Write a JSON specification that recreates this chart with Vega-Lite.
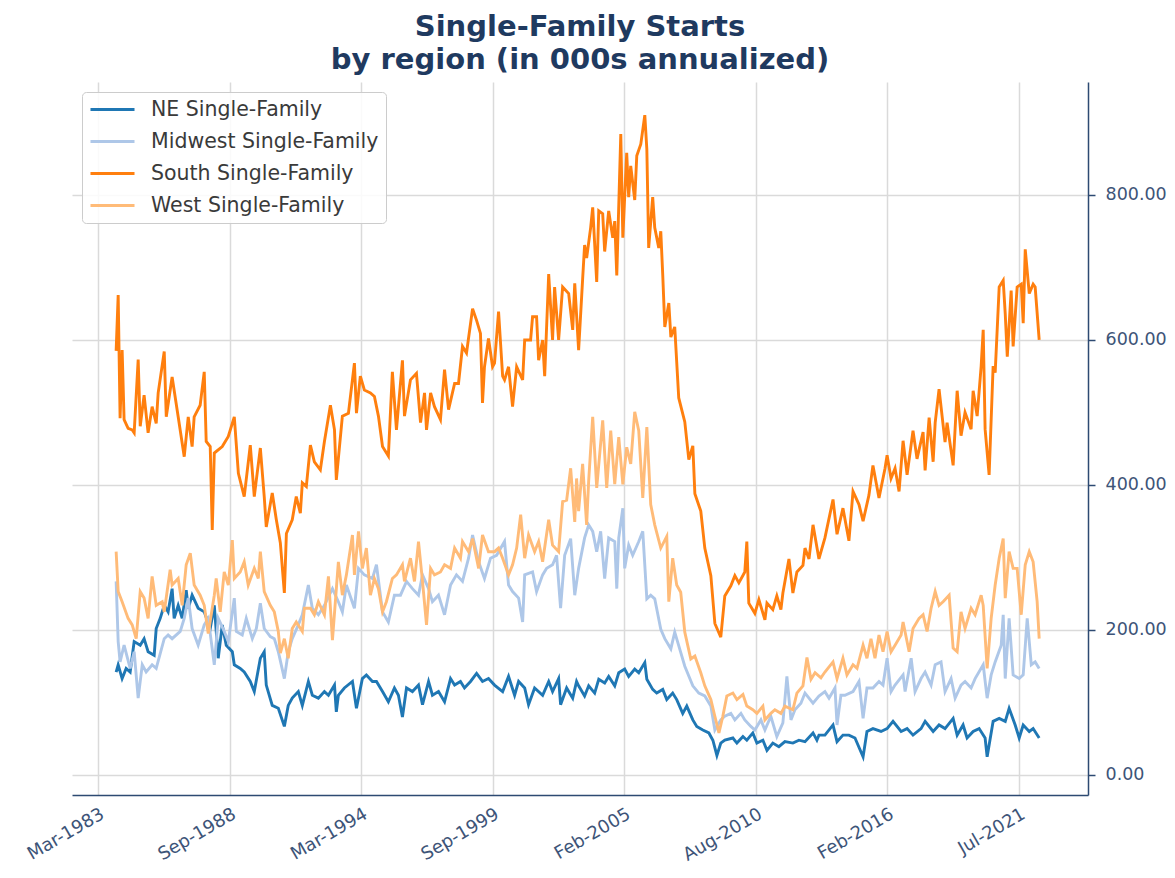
{
"$schema": "https://vega.github.io/schema/vega-lite/v6.json",
"width": 1016, "height": 713,
"autosize": {"type": "none"},
"padding": {"left": 72, "top": 82, "right": 87, "bottom": 83},
"background": "white",
"config": {"font": "DejaVu Sans", "view": {"stroke": null},
  "legend": {"orient": "top-left", "offset": 10, "symbolType": "M-2.5,0H2.5", "symbolSize": 310, "symbolStrokeWidth": 3, "symbolOffset": 13, "labelFontSize": 20.5, "labelLimit": 500, "labelColor": "#3a3a3a", "labelFont": "DejaVu Sans", "fillColor": "rgba(255,255,255,0.85)", "strokeColor": "#cccccc", "cornerRadius": 4, "padding": 7, "rowPadding": 11, "labelOffset": 28}},
"title": {"text": ["Single-Family Starts", "by region (in 000s annualized)"], "fontSize": 29, "fontWeight": "bold", "color": "#1f3a60", "anchor": "middle", "lineHeight": 33, "offset": 7, "font": "DejaVu Sans"},
"datasets": {
"ne": [{"d":"1984-01","v":142},{"d":"1984-02","v":152},{"d":"1984-04","v":133},{"d":"1984-06","v":147},{"d":"1984-08","v":142},{"d":"1984-10","v":184},{"d":"1985-01","v":179},{"d":"1985-03","v":188},{"d":"1985-05","v":170},{"d":"1985-08","v":165},{"d":"1985-09","v":202},{"d":"1985-11","v":216},{"d":"1986-01","v":234},{"d":"1986-03","v":225},{"d":"1986-05","v":257},{"d":"1986-06","v":216},{"d":"1986-08","v":234},{"d":"1986-10","v":216},{"d":"1986-12","v":255},{"d":"1987-01","v":230},{"d":"1987-03","v":248},{"d":"1987-06","v":230},{"d":"1987-09","v":225},{"d":"1987-12","v":202},{"d":"1988-02","v":234},{"d":"1988-04","v":161},{"d":"1988-06","v":207},{"d":"1988-08","v":179},{"d":"1988-11","v":170},{"d":"1988-12","v":152},{"d":"1989-03","v":147},{"d":"1989-05","v":142},{"d":"1989-08","v":129},{"d":"1989-10","v":115},{"d":"1990-01","v":161},{"d":"1990-03","v":170},{"d":"1990-04","v":124},{"d":"1990-07","v":96},{"d":"1990-10","v":92},{"d":"1991-01","v":67},{"d":"1991-03","v":96},{"d":"1991-05","v":106},{"d":"1991-08","v":115},{"d":"1991-10","v":96},{"d":"1992-01","v":129},{"d":"1992-03","v":110},{"d":"1992-06","v":106},{"d":"1992-09","v":115},{"d":"1992-11","v":110},{"d":"1993-02","v":124},{"d":"1993-03","v":87},{"d":"1993-04","v":110},{"d":"1993-07","v":120},{"d":"1993-11","v":129},{"d":"1994-01","v":92},{"d":"1994-04","v":133},{"d":"1994-06","v":138},{"d":"1994-09","v":129},{"d":"1994-11","v":129},{"d":"1995-02","v":115},{"d":"1995-05","v":101},{"d":"1995-08","v":120},{"d":"1995-10","v":110},{"d":"1995-12","v":80},{"d":"1996-02","v":120},{"d":"1996-05","v":115},{"d":"1996-08","v":124},{"d":"1996-10","v":97},{"d":"1997-01","v":129},{"d":"1997-03","v":110},{"d":"1997-06","v":115},{"d":"1997-09","v":101},{"d":"1997-12","v":133},{"d":"1998-02","v":124},{"d":"1998-05","v":129},{"d":"1998-07","v":120},{"d":"1998-10","v":129},{"d":"1999-01","v":140},{"d":"1999-04","v":129},{"d":"1999-07","v":133},{"d":"1999-10","v":124},{"d":"2000-02","v":115},{"d":"2000-05","v":136},{"d":"2000-08","v":110},{"d":"2000-10","v":129},{"d":"2001-01","v":120},{"d":"2001-03","v":97},{"d":"2001-06","v":120},{"d":"2001-10","v":110},{"d":"2002-01","v":129},{"d":"2002-03","v":115},{"d":"2002-06","v":133},{"d":"2002-07","v":97},{"d":"2002-10","v":120},{"d":"2003-01","v":106},{"d":"2003-03","v":129},{"d":"2003-04","v":123},{"d":"2003-07","v":109},{"d":"2003-09","v":123},{"d":"2003-12","v":113},{"d":"2004-02","v":132},{"d":"2004-05","v":127},{"d":"2004-07","v":136},{"d":"2004-10","v":123},{"d":"2004-12","v":141},{"d":"2005-03","v":146},{"d":"2005-05","v":136},{"d":"2005-08","v":146},{"d":"2005-10","v":141},{"d":"2006-01","v":155},{"d":"2006-02","v":132},{"d":"2006-05","v":118},{"d":"2006-07","v":113},{"d":"2006-10","v":118},{"d":"2006-12","v":104},{"d":"2007-03","v":113},{"d":"2007-05","v":104},{"d":"2007-08","v":85},{"d":"2007-10","v":95},{"d":"2008-01","v":76},{"d":"2008-03","v":67},{"d":"2008-06","v":62},{"d":"2008-09","v":58},{"d":"2008-11","v":48},{"d":"2009-01","v":27},{"d":"2009-03","v":44},{"d":"2009-05","v":48},{"d":"2009-09","v":51},{"d":"2009-11","v":44},{"d":"2010-02","v":53},{"d":"2010-04","v":48},{"d":"2010-07","v":58},{"d":"2010-09","v":44},{"d":"2010-12","v":48},{"d":"2011-02","v":34},{"d":"2011-05","v":44},{"d":"2011-08","v":39},{"d":"2011-11","v":46},{"d":"2012-03","v":44},{"d":"2012-06","v":48},{"d":"2012-09","v":46},{"d":"2013-01","v":58},{"d":"2013-03","v":48},{"d":"2013-04","v":55},{"d":"2013-07","v":55},{"d":"2013-11","v":69},{"d":"2014-01","v":46},{"d":"2014-04","v":55},{"d":"2014-07","v":55},{"d":"2014-10","v":51},{"d":"2015-02","v":25},{"d":"2015-04","v":60},{"d":"2015-07","v":64},{"d":"2015-11","v":60},{"d":"2016-02","v":64},{"d":"2016-05","v":74},{"d":"2016-09","v":60},{"d":"2016-12","v":64},{"d":"2017-03","v":55},{"d":"2017-07","v":64},{"d":"2017-09","v":74},{"d":"2018-01","v":60},{"d":"2018-04","v":69},{"d":"2018-07","v":64},{"d":"2018-11","v":78},{"d":"2019-01","v":55},{"d":"2019-04","v":69},{"d":"2019-06","v":51},{"d":"2019-09","v":60},{"d":"2019-12","v":64},{"d":"2020-03","v":51},{"d":"2020-04","v":25},{"d":"2020-07","v":74},{"d":"2020-10","v":78},{"d":"2021-01","v":74},{"d":"2021-03","v":92},{"d":"2021-06","v":69},{"d":"2021-08","v":51},{"d":"2021-10","v":69},{"d":"2022-01","v":60},{"d":"2022-03","v":64},{"d":"2022-06","v":51}],
"mw": [{"d":"1984-01","v":267},{"d":"1984-02","v":184},{"d":"1984-03","v":156},{"d":"1984-05","v":179},{"d":"1984-08","v":147},{"d":"1984-10","v":170},{"d":"1984-12","v":106},{"d":"1985-02","v":152},{"d":"1985-04","v":142},{"d":"1985-07","v":152},{"d":"1985-09","v":147},{"d":"1986-01","v":188},{"d":"1986-03","v":193},{"d":"1986-05","v":188},{"d":"1986-09","v":198},{"d":"1986-11","v":216},{"d":"1987-01","v":244},{"d":"1987-03","v":202},{"d":"1987-06","v":179},{"d":"1987-09","v":207},{"d":"1987-11","v":216},{"d":"1988-02","v":152},{"d":"1988-04","v":216},{"d":"1988-07","v":198},{"d":"1988-09","v":184},{"d":"1988-12","v":244},{"d":"1989-01","v":198},{"d":"1989-04","v":193},{"d":"1989-06","v":216},{"d":"1989-09","v":188},{"d":"1989-11","v":202},{"d":"1990-01","v":237},{"d":"1990-03","v":202},{"d":"1990-06","v":191},{"d":"1990-08","v":188},{"d":"1990-10","v":170},{"d":"1991-01","v":133},{"d":"1991-03","v":170},{"d":"1991-05","v":188},{"d":"1991-08","v":207},{"d":"1991-10","v":221},{"d":"1992-01","v":262},{"d":"1992-03","v":230},{"d":"1992-06","v":221},{"d":"1992-09","v":234},{"d":"1993-01","v":257},{"d":"1993-04","v":239},{"d":"1993-06","v":225},{"d":"1993-08","v":262},{"d":"1993-12","v":230},{"d":"1994-02","v":285},{"d":"1994-05","v":276},{"d":"1994-09","v":271},{"d":"1994-11","v":290},{"d":"1995-02","v":225},{"d":"1995-05","v":211},{"d":"1995-08","v":248},{"d":"1995-11","v":248},{"d":"1996-02","v":267},{"d":"1996-05","v":257},{"d":"1996-08","v":248},{"d":"1996-10","v":276},{"d":"1997-01","v":257},{"d":"1997-03","v":239},{"d":"1997-06","v":248},{"d":"1997-09","v":221},{"d":"1997-12","v":262},{"d":"1998-03","v":276},{"d":"1998-06","v":267},{"d":"1998-09","v":299},{"d":"1998-11","v":331},{"d":"1999-02","v":294},{"d":"1999-05","v":271},{"d":"1999-08","v":299},{"d":"1999-11","v":303},{"d":"2000-03","v":322},{"d":"2000-05","v":262},{"d":"2000-07","v":253},{"d":"2000-10","v":244},{"d":"2000-12","v":211},{"d":"2001-01","v":276},{"d":"2001-05","v":280},{"d":"2001-07","v":253},{"d":"2001-10","v":276},{"d":"2001-12","v":285},{"d":"2002-03","v":290},{"d":"2002-05","v":303},{"d":"2002-07","v":230},{"d":"2002-09","v":303},{"d":"2002-12","v":326},{"d":"2003-02","v":248},{"d":"2003-04","v":285},{"d":"2003-07","v":327},{"d":"2003-09","v":345},{"d":"2003-11","v":336},{"d":"2004-01","v":308},{"d":"2004-03","v":336},{"d":"2004-05","v":271},{"d":"2004-07","v":327},{"d":"2004-10","v":322},{"d":"2004-11","v":257},{"d":"2004-12","v":327},{"d":"2005-02","v":368},{"d":"2005-03","v":285},{"d":"2005-05","v":317},{"d":"2005-07","v":303},{"d":"2005-10","v":322},{"d":"2005-12","v":336},{"d":"2006-02","v":243},{"d":"2006-04","v":248},{"d":"2006-06","v":243},{"d":"2006-09","v":201},{"d":"2006-11","v":188},{"d":"2007-02","v":174},{"d":"2007-04","v":197},{"d":"2007-07","v":169},{"d":"2007-09","v":150},{"d":"2008-01","v":123},{"d":"2008-04","v":113},{"d":"2008-07","v":109},{"d":"2008-10","v":95},{"d":"2008-12","v":62},{"d":"2009-03","v":76},{"d":"2009-05","v":81},{"d":"2009-08","v":85},{"d":"2009-10","v":76},{"d":"2010-01","v":85},{"d":"2010-03","v":76},{"d":"2010-06","v":67},{"d":"2010-08","v":62},{"d":"2010-11","v":76},{"d":"2011-01","v":62},{"d":"2011-04","v":81},{"d":"2011-07","v":53},{"d":"2011-10","v":72},{"d":"2011-12","v":136},{"d":"2012-02","v":76},{"d":"2012-04","v":90},{"d":"2012-07","v":99},{"d":"2012-09","v":113},{"d":"2013-01","v":99},{"d":"2013-04","v":109},{"d":"2013-07","v":115},{"d":"2013-09","v":106},{"d":"2013-12","v":120},{"d":"2014-01","v":69},{"d":"2014-03","v":110},{"d":"2014-05","v":110},{"d":"2014-09","v":115},{"d":"2014-12","v":129},{"d":"2015-02","v":78},{"d":"2015-04","v":120},{"d":"2015-07","v":120},{"d":"2015-10","v":129},{"d":"2015-12","v":124},{"d":"2016-02","v":161},{"d":"2016-04","v":115},{"d":"2016-06","v":124},{"d":"2016-10","v":138},{"d":"2016-11","v":115},{"d":"2017-02","v":161},{"d":"2017-04","v":115},{"d":"2017-07","v":133},{"d":"2017-09","v":142},{"d":"2017-12","v":124},{"d":"2018-02","v":152},{"d":"2018-05","v":156},{"d":"2018-07","v":115},{"d":"2018-10","v":133},{"d":"2018-12","v":106},{"d":"2019-03","v":124},{"d":"2019-05","v":129},{"d":"2019-08","v":120},{"d":"2019-10","v":133},{"d":"2020-02","v":152},{"d":"2020-04","v":106},{"d":"2020-06","v":138},{"d":"2020-08","v":156},{"d":"2020-11","v":179},{"d":"2020-12","v":221},{"d":"2021-01","v":133},{"d":"2021-03","v":216},{"d":"2021-05","v":138},{"d":"2021-08","v":133},{"d":"2021-10","v":138},{"d":"2021-12","v":216},{"d":"2022-02","v":152},{"d":"2022-04","v":156},{"d":"2022-06","v":147}],
"s": [{"d":"1984-01","v":585},{"d":"1984-02","v":662},{"d":"1984-03","v":492},{"d":"1984-04","v":586},{"d":"1984-05","v":490},{"d":"1984-07","v":478},{"d":"1984-09","v":476},{"d":"1984-10","v":472},{"d":"1984-12","v":573},{"d":"1985-01","v":481},{"d":"1985-03","v":524},{"d":"1985-05","v":472},{"d":"1985-07","v":508},{"d":"1985-09","v":485},{"d":"1985-10","v":527},{"d":"1986-01","v":584},{"d":"1986-02","v":494},{"d":"1986-05","v":549},{"d":"1986-08","v":494},{"d":"1986-11","v":439},{"d":"1987-01","v":494},{"d":"1987-03","v":453},{"d":"1987-04","v":494},{"d":"1987-07","v":510},{"d":"1987-09","v":556},{"d":"1987-10","v":460},{"d":"1987-12","v":453},{"d":"1988-01","v":338},{"d":"1988-02","v":444},{"d":"1988-06","v":453},{"d":"1988-09","v":467},{"d":"1988-12","v":494},{"d":"1989-02","v":416},{"d":"1989-05","v":384},{"d":"1989-08","v":455},{"d":"1989-10","v":384},{"d":"1989-11","v":407},{"d":"1990-01","v":451},{"d":"1990-03","v":384},{"d":"1990-04","v":342},{"d":"1990-07","v":389},{"d":"1990-09","v":352},{"d":"1990-11","v":320},{"d":"1991-01","v":251},{"d":"1991-02","v":333},{"d":"1991-05","v":352},{"d":"1991-07","v":384},{"d":"1991-09","v":361},{"d":"1991-10","v":403},{"d":"1991-12","v":398},{"d":"1992-02","v":455},{"d":"1992-04","v":432},{"d":"1992-07","v":421},{"d":"1992-09","v":460},{"d":"1992-12","v":510},{"d":"1993-02","v":476},{"d":"1993-03","v":407},{"d":"1993-06","v":495},{"d":"1993-09","v":499},{"d":"1993-12","v":568},{"d":"1994-01","v":499},{"d":"1994-03","v":550},{"d":"1994-05","v":531},{"d":"1994-08","v":527},{"d":"1994-10","v":522},{"d":"1994-12","v":495},{"d":"1995-02","v":453},{"d":"1995-05","v":440},{"d":"1995-07","v":556},{"d":"1995-09","v":476},{"d":"1995-12","v":572},{"d":"1996-01","v":495},{"d":"1996-04","v":545},{"d":"1996-07","v":554},{"d":"1996-09","v":486},{"d":"1996-11","v":527},{"d":"1996-12","v":476},{"d":"1997-02","v":527},{"d":"1997-04","v":508},{"d":"1997-07","v":490},{"d":"1997-09","v":559},{"d":"1997-11","v":504},{"d":"1998-02","v":540},{"d":"1998-04","v":540},{"d":"1998-06","v":591},{"d":"1998-08","v":582},{"d":"1998-11","v":643},{"d":"1999-01","v":627},{"d":"1999-03","v":609},{"d":"1999-04","v":513},{"d":"1999-05","v":563},{"d":"1999-07","v":602},{"d":"1999-09","v":563},{"d":"1999-10","v":568},{"d":"1999-12","v":639},{"d":"2000-02","v":550},{"d":"2000-03","v":545},{"d":"2000-05","v":563},{"d":"2000-07","v":508},{"d":"2000-09","v":563},{"d":"2000-12","v":545},{"d":"2001-01","v":600},{"d":"2001-04","v":600},{"d":"2001-05","v":632},{"d":"2001-07","v":632},{"d":"2001-08","v":572},{"d":"2001-10","v":600},{"d":"2001-11","v":550},{"d":"2002-01","v":691},{"d":"2002-03","v":600},{"d":"2002-04","v":673},{"d":"2002-06","v":600},{"d":"2002-08","v":673},{"d":"2002-11","v":664},{"d":"2003-01","v":614},{"d":"2003-02","v":678},{"d":"2003-04","v":586},{"d":"2003-06","v":684},{"d":"2003-07","v":731},{"d":"2003-08","v":713},{"d":"2003-10","v":755},{"d":"2003-11","v":783},{"d":"2004-01","v":680},{"d":"2004-02","v":778},{"d":"2004-04","v":774},{"d":"2004-05","v":722},{"d":"2004-07","v":778},{"d":"2004-09","v":741},{"d":"2004-10","v":764},{"d":"2004-11","v":689},{"d":"2005-01","v":884},{"d":"2005-02","v":741},{"d":"2005-04","v":858},{"d":"2005-05","v":797},{"d":"2005-06","v":840},{"d":"2005-08","v":793},{"d":"2005-09","v":854},{"d":"2005-11","v":870},{"d":"2006-01","v":910},{"d":"2006-02","v":863},{"d":"2006-03","v":727},{"d":"2006-05","v":797},{"d":"2006-06","v":755},{"d":"2006-08","v":727},{"d":"2006-09","v":750},{"d":"2006-10","v":689},{"d":"2006-11","v":618},{"d":"2007-01","v":651},{"d":"2007-02","v":604},{"d":"2007-04","v":618},{"d":"2007-06","v":520},{"d":"2007-09","v":487},{"d":"2007-11","v":435},{"d":"2008-01","v":454},{"d":"2008-02","v":388},{"d":"2008-05","v":364},{"d":"2008-07","v":313},{"d":"2008-10","v":275},{"d":"2008-12","v":209},{"d":"2009-03","v":190},{"d":"2009-05","v":247},{"d":"2009-08","v":261},{"d":"2009-10","v":275},{"d":"2009-12","v":265},{"d":"2010-03","v":280},{"d":"2010-04","v":322},{"d":"2010-05","v":237},{"d":"2010-08","v":223},{"d":"2010-10","v":242},{"d":"2011-01","v":214},{"d":"2011-02","v":237},{"d":"2011-05","v":228},{"d":"2011-07","v":247},{"d":"2011-09","v":228},{"d":"2011-10","v":251},{"d":"2012-01","v":298},{"d":"2012-03","v":251},{"d":"2012-05","v":280},{"d":"2012-08","v":289},{"d":"2012-09","v":313},{"d":"2012-11","v":298},{"d":"2013-01","v":345},{"d":"2013-04","v":298},{"d":"2013-07","v":327},{"d":"2013-11","v":380},{"d":"2014-01","v":332},{"d":"2014-04","v":368},{"d":"2014-07","v":323},{"d":"2014-09","v":391},{"d":"2014-12","v":373},{"d":"2015-02","v":350},{"d":"2015-05","v":386},{"d":"2015-07","v":427},{"d":"2015-10","v":382},{"d":"2016-01","v":423},{"d":"2016-02","v":441},{"d":"2016-04","v":409},{"d":"2016-06","v":423},{"d":"2016-08","v":391},{"d":"2016-10","v":461},{"d":"2016-12","v":414},{"d":"2017-03","v":475},{"d":"2017-05","v":436},{"d":"2017-08","v":473},{"d":"2017-09","v":420},{"d":"2017-11","v":493},{"d":"2018-01","v":432},{"d":"2018-02","v":486},{"d":"2018-04","v":532},{"d":"2018-07","v":459},{"d":"2018-08","v":486},{"d":"2018-11","v":427},{"d":"2019-01","v":530},{"d":"2019-03","v":468},{"d":"2019-05","v":500},{"d":"2019-08","v":477},{"d":"2019-09","v":530},{"d":"2019-11","v":495},{"d":"2020-01","v":564},{"d":"2020-02","v":614},{"d":"2020-03","v":477},{"d":"2020-05","v":414},{"d":"2020-07","v":564},{"d":"2020-08","v":555},{"d":"2020-10","v":673},{"d":"2020-12","v":682},{"d":"2021-01","v":636},{"d":"2021-02","v":577},{"d":"2021-04","v":668},{"d":"2021-05","v":591},{"d":"2021-07","v":673},{"d":"2021-09","v":677},{"d":"2021-10","v":623},{"d":"2021-11","v":725},{"d":"2022-01","v":664},{"d":"2022-03","v":677},{"d":"2022-04","v":673},{"d":"2022-06","v":600}],
"w": [{"d":"1984-01","v":308},{"d":"1984-02","v":253},{"d":"1984-04","v":239},{"d":"1984-07","v":216},{"d":"1984-09","v":207},{"d":"1984-11","v":188},{"d":"1985-01","v":253},{"d":"1985-03","v":244},{"d":"1985-05","v":216},{"d":"1985-07","v":274},{"d":"1985-09","v":234},{"d":"1985-12","v":239},{"d":"1986-01","v":225},{"d":"1986-04","v":283},{"d":"1986-05","v":262},{"d":"1986-08","v":271},{"d":"1986-10","v":234},{"d":"1986-12","v":290},{"d":"1987-02","v":306},{"d":"1987-04","v":262},{"d":"1987-07","v":248},{"d":"1987-09","v":234},{"d":"1987-11","v":195},{"d":"1988-02","v":248},{"d":"1988-03","v":271},{"d":"1988-05","v":225},{"d":"1988-07","v":280},{"d":"1988-09","v":262},{"d":"1988-11","v":324},{"d":"1988-12","v":271},{"d":"1989-03","v":280},{"d":"1989-05","v":294},{"d":"1989-07","v":262},{"d":"1989-10","v":285},{"d":"1989-12","v":271},{"d":"1990-01","v":308},{"d":"1990-03","v":253},{"d":"1990-06","v":234},{"d":"1990-08","v":225},{"d":"1990-10","v":198},{"d":"1990-11","v":168},{"d":"1991-01","v":188},{"d":"1991-03","v":161},{"d":"1991-05","v":202},{"d":"1991-07","v":211},{"d":"1991-10","v":198},{"d":"1991-11","v":230},{"d":"1992-02","v":230},{"d":"1992-04","v":221},{"d":"1992-06","v":239},{"d":"1992-09","v":221},{"d":"1992-11","v":274},{"d":"1993-01","v":186},{"d":"1993-04","v":294},{"d":"1993-06","v":248},{"d":"1993-08","v":276},{"d":"1993-11","v":331},{"d":"1993-12","v":276},{"d":"1994-02","v":336},{"d":"1994-04","v":285},{"d":"1994-06","v":313},{"d":"1994-08","v":248},{"d":"1994-10","v":271},{"d":"1994-12","v":257},{"d":"1995-02","v":225},{"d":"1995-04","v":239},{"d":"1995-07","v":271},{"d":"1995-09","v":276},{"d":"1995-12","v":290},{"d":"1996-01","v":267},{"d":"1996-04","v":299},{"d":"1996-06","v":267},{"d":"1996-08","v":322},{"d":"1996-10","v":267},{"d":"1996-12","v":207},{"d":"1997-02","v":285},{"d":"1997-04","v":276},{"d":"1997-07","v":280},{"d":"1997-09","v":290},{"d":"1997-12","v":285},{"d":"1998-02","v":313},{"d":"1998-05","v":299},{"d":"1998-06","v":322},{"d":"1998-09","v":308},{"d":"1998-11","v":326},{"d":"1999-02","v":285},{"d":"1999-04","v":331},{"d":"1999-07","v":308},{"d":"1999-10","v":308},{"d":"1999-12","v":313},{"d":"2000-02","v":299},{"d":"2000-05","v":276},{"d":"2000-07","v":290},{"d":"2000-09","v":313},{"d":"2000-11","v":359},{"d":"2001-01","v":299},{"d":"2001-03","v":331},{"d":"2001-06","v":308},{"d":"2001-08","v":322},{"d":"2001-10","v":294},{"d":"2002-01","v":352},{"d":"2002-03","v":317},{"d":"2002-06","v":308},{"d":"2002-08","v":377},{"d":"2002-10","v":379},{"d":"2002-12","v":423},{"d":"2003-02","v":349},{"d":"2003-03","v":409},{"d":"2003-04","v":364},{"d":"2003-06","v":429},{"d":"2003-08","v":345},{"d":"2003-09","v":406},{"d":"2003-11","v":494},{"d":"2004-01","v":396},{"d":"2004-04","v":489},{"d":"2004-06","v":396},{"d":"2004-08","v":475},{"d":"2004-10","v":401},{"d":"2004-12","v":466},{"d":"2005-02","v":401},{"d":"2005-04","v":452},{"d":"2005-06","v":429},{"d":"2005-08","v":501},{"d":"2005-10","v":475},{"d":"2005-12","v":382},{"d":"2006-02","v":480},{"d":"2006-04","v":373},{"d":"2006-06","v":345},{"d":"2006-09","v":313},{"d":"2006-12","v":329},{"d":"2007-01","v":239},{"d":"2007-03","v":299},{"d":"2007-05","v":262},{"d":"2007-07","v":252},{"d":"2007-09","v":197},{"d":"2007-12","v":160},{"d":"2008-02","v":164},{"d":"2008-05","v":141},{"d":"2008-07","v":123},{"d":"2008-10","v":104},{"d":"2008-12","v":81},{"d":"2009-02","v":58},{"d":"2009-04","v":81},{"d":"2009-06","v":109},{"d":"2009-09","v":113},{"d":"2009-11","v":104},{"d":"2010-02","v":111},{"d":"2010-04","v":95},{"d":"2010-07","v":90},{"d":"2010-09","v":85},{"d":"2010-12","v":95},{"d":"2011-01","v":76},{"d":"2011-04","v":85},{"d":"2011-06","v":90},{"d":"2011-09","v":85},{"d":"2011-11","v":95},{"d":"2012-03","v":90},{"d":"2012-05","v":113},{"d":"2012-08","v":123},{"d":"2012-10","v":162},{"d":"2012-12","v":132},{"d":"2013-02","v":141},{"d":"2013-05","v":134},{"d":"2013-07","v":142},{"d":"2013-11","v":156},{"d":"2014-01","v":133},{"d":"2014-04","v":161},{"d":"2014-06","v":138},{"d":"2014-09","v":152},{"d":"2014-11","v":147},{"d":"2015-02","v":179},{"d":"2015-04","v":161},{"d":"2015-06","v":188},{"d":"2015-08","v":161},{"d":"2015-10","v":193},{"d":"2015-12","v":170},{"d":"2016-02","v":198},{"d":"2016-04","v":170},{"d":"2016-06","v":179},{"d":"2016-09","v":193},{"d":"2016-10","v":211},{"d":"2017-01","v":170},{"d":"2017-03","v":202},{"d":"2017-06","v":216},{"d":"2017-08","v":221},{"d":"2017-10","v":198},{"d":"2017-12","v":230},{"d":"2018-02","v":253},{"d":"2018-04","v":234},{"d":"2018-06","v":239},{"d":"2018-09","v":248},{"d":"2018-11","v":175},{"d":"2019-01","v":170},{"d":"2019-03","v":225},{"d":"2019-05","v":202},{"d":"2019-08","v":230},{"d":"2019-10","v":221},{"d":"2020-01","v":248},{"d":"2020-02","v":234},{"d":"2020-04","v":147},{"d":"2020-06","v":216},{"d":"2020-08","v":262},{"d":"2020-10","v":299},{"d":"2020-12","v":326},{"d":"2021-01","v":244},{"d":"2021-03","v":308},{"d":"2021-05","v":285},{"d":"2021-07","v":285},{"d":"2021-09","v":221},{"d":"2021-11","v":290},{"d":"2022-01","v":308},{"d":"2022-03","v":294},{"d":"2022-05","v":239},{"d":"2022-06","v":188}]
},
"encoding": {
  "x": {"field": "d", "type": "temporal",
    "scale": {"type": "utc", "domain": [{"year": 1982, "month": 3, "date": 1, "utc": true}, {"year": 2024, "month": 6, "date": 12, "utc": true}]},
    "axis": {"title": null, "format": "%b-%Y",
      "values": [{"year": 1983, "month": 3, "date": 31, "utc": true}, {"year": 1988, "month": 9, "date": 20, "utc": true}, {"year": 1994, "month": 3, "date": 13, "utc": true}, {"year": 1999, "month": 9, "date": 3, "utc": true}, {"year": 2005, "month": 2, "date": 23, "utc": true}, {"year": 2010, "month": 8, "date": 16, "utc": true}, {"year": 2016, "month": 2, "date": 6, "utc": true}, {"year": 2021, "month": 7, "date": 29, "utc": true}],
      "grid": true, "gridColor": "#dadada", "gridWidth": 1.5, "domainColor": "#2d4a72", "domainWidth": 1.5, "ticks": false,
      "labelAngle": -30, "labelAlign": "right", "labelBaseline": "top", "labelFontSize": 18, "labelColor": "#3d5478", "labelPadding": 10, "labelFont": "DejaVu Sans"}},
  "y": {"field": "v", "type": "quantitative",
    "scale": {"domain": [-27.6, 955.8], "nice": false, "zero": false},
    "axis": {"title": null, "orient": "right", "values": [0, 200, 400, 600, 800], "format": ".2f",
      "grid": true, "gridColor": "#dadada", "gridWidth": 1.5, "domainColor": "#2d4a72", "domainWidth": 1.5,
      "tickColor": "#2d4a72", "tickSize": 7, "tickWidth": 1.5, "labelFontSize": 17.5, "labelColor": "#3d5478", "labelPadding": 10, "labelFont": "DejaVu Sans"}}
},
"layer": [
  {"data": {"name": "ne"}, "mark": {"type": "line", "strokeWidth": 2.9},
   "encoding": {"color": {"datum": "NE Single-Family", "type": "nominal",
     "scale": {"domain": ["NE Single-Family", "Midwest Single-Family", "South Single-Family", "West Single-Family"], "range": ["#1f77b4", "#aec7e8", "#ff7f0e", "#ffbb78"]},
     "legend": {"title": null}}}},
  {"data": {"name": "mw"}, "mark": {"type": "line", "strokeWidth": 2.9},
   "encoding": {"color": {"datum": "Midwest Single-Family", "type": "nominal"}}},
  {"data": {"name": "s"}, "mark": {"type": "line", "strokeWidth": 2.9},
   "encoding": {"color": {"datum": "South Single-Family", "type": "nominal"}}},
  {"data": {"name": "w"}, "mark": {"type": "line", "strokeWidth": 2.9},
   "encoding": {"color": {"datum": "West Single-Family", "type": "nominal"}}}
]
}
